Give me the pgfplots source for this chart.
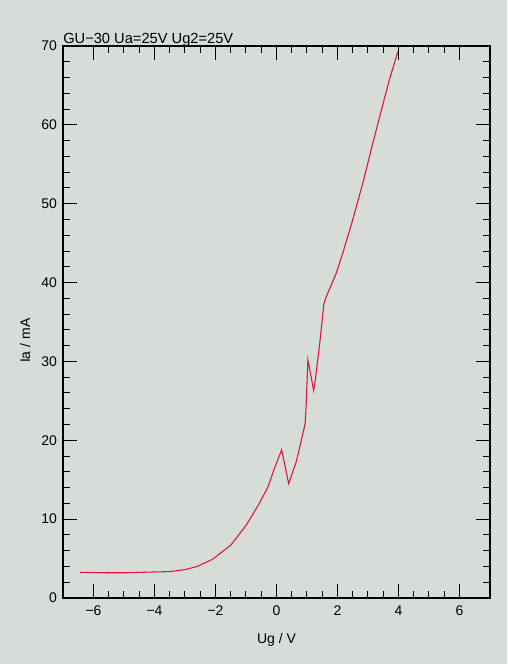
\documentclass[border=0pt]{standalone}
\usepackage{pgfplots}
\pgfplotsset{compat=1.18}
\usepackage{fontspec}
\setmainfont{Liberation Sans}
\definecolor{bgc}{RGB}{214,220,216}
\definecolor{curve}{RGB}{220,20,60}
\begin{document}
\begin{tikzpicture}
\fill[bgc] (0,0) rectangle (380.25pt,498pt);
\begin{axis}[
    at={(47.25pt,49.5pt)}, anchor=south west,
    scale only axis,
    width=320.25pt, height=414pt,
    xmin=-7, xmax=7, ymin=0, ymax=70,
    xtick={-6,-4,-2,0,2,4,6},
    xticklabels={−6,−4,−2,0,2,4,6},
    ytick={0,10,20,30,40,50,60,70},
    minor x tick num=3,
    minor y tick num=4,
    tick align=inside,
    xtick pos=both, ytick pos=both,
    xticklabel pos=lower, yticklabel pos=left,
    major tick length=10.5pt, minor tick length=5.25pt,
    every tick/.style={black, line width=0.75pt},
    axis line style={black, line width=1pt},
    /pgf/number format/assume math mode=true,
    tick label style={font=\fontsize{10.5}{12}\selectfont},
    xticklabel style={yshift=-2pt},
    yticklabel style={xshift=-1pt},
    xlabel={Ug / V},
    ylabel={Ia / mA},
    label style={font=\fontsize{10.5}{12}\selectfont},
    xlabel style={at={(axis description cs:0.5,-0.076)}, anchor=center},
    ylabel style={at={(axis description cs:-0.089,0.466)}, anchor=center},
    clip=false,
  ]
  \addplot[curve, line width=0.8pt, mark=none] coordinates {
    (-6.44,3.25) (-5.5,3.2) (-5.0,3.2) (-4.5,3.25) (-4.0,3.3) (-3.5,3.35)
    (-3.0,3.6) (-2.6,4.0) (-2.1,4.9) (-1.5,6.7) (-1.0,9.2) (-0.56,12.0)
    (-0.28,14.1) (-0.07,16.4) (0.17,18.8) (0.40,14.5) (0.65,17.3) (0.94,22.1)
    (0.97,24.3) (1.03,30.2) (1.22,26.3) (1.28,27.9) (1.43,32.7) (1.55,37.2)
    (1.61,38.0) (1.96,41.2) (2.17,43.7) (2.48,47.7) (2.83,52.6) (3.10,56.8)
    (3.38,61.0) (3.70,65.7) (3.98,69.3)
  };
  \node[anchor=base west, inner sep=0pt, font=\fontsize{11}{13}\selectfont]
    at (axis description cs:0,1) [yshift=2.2pt] {GU−30 Ua=25V Ug2=25V};
\end{axis}
\end{tikzpicture}
\end{document}
